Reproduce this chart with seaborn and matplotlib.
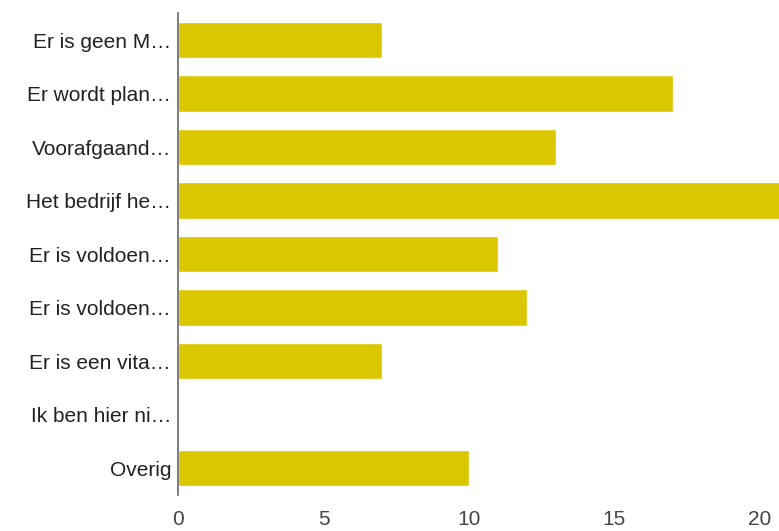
import seaborn as sns
import matplotlib.pyplot as plt
import pandas as pd

categories = [
    "Er is geen M\u2026",
    "Er wordt plan\u2026",
    "Voorafgaand\u2026",
    "Het bedrijf he\u2026",
    "Er is voldoen\u2026",
    "Er is voldoen\u2026",
    "Er is een vita\u2026",
    "Ik ben hier ni\u2026",
    "Overig",
]
counts = [7, 17, 13, 21, 11, 12, 7, 0, 10]

# two labels are truncated to the same text, so plot on positions and relabel
df = pd.DataFrame({"pos": [str(i) for i in range(len(categories))], "aantal": counts})

sns.set_style("white")
plt.rcParams["font.family"] = ["Liberation Sans", "DejaVu Sans"]

fig = plt.figure(figsize=(7.79, 5.31), dpi=100)
ax = fig.add_axes([178 / 779, 1 - 495 / 531, 1 - 178 / 779, (495 - 13.25) / 531])

sns.barplot(data=df, x="aantal", y="pos", orient="h", color="#dac700",
            saturation=1, width=0.68, ax=ax)

ax.set_yticks(range(len(categories)))
ax.set_yticklabels(categories)
ax.set_xlim(0, (779 - 178) / 29.1)
ax.set_ylim(8.5, -0.5)
ax.set_xticks([0, 5, 10, 15, 20])
ax.set_xlabel("")
ax.set_ylabel("")

for side in ["top", "right", "bottom"]:
    ax.spines[side].set_visible(False)
ax.spines["left"].set_color("#666666")
ax.spines["left"].set_linewidth(1.2)

ax.tick_params(axis="y", length=0, pad=5, labelsize=15, labelcolor="#222222")
ax.tick_params(axis="x", length=0, pad=11, labelsize=15, labelcolor="#444444")

plt.savefig("out.png", dpi=100)
